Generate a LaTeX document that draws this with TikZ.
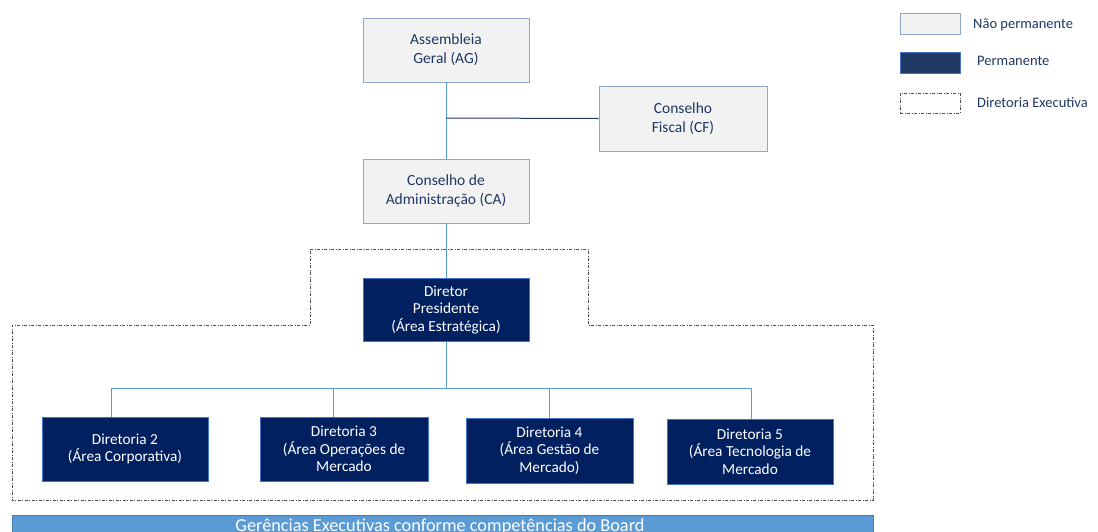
\documentclass[tikz,border=0pt]{standalone}
\usepackage{fontspec}
\setmainfont{Carlito}
\usetikzlibrary{calc}
\definecolor{navy}{HTML}{002060}
\definecolor{navylg}{HTML}{1F3864}
\definecolor{txtblue}{HTML}{1F3864}
\definecolor{lightfill}{HTML}{F2F2F2}
\definecolor{lightborder}{HTML}{8EA9C8}
\definecolor{conn}{HTML}{5B9BD5}
\definecolor{darkborder}{HTML}{4472C4}
\definecolor{barfill}{HTML}{5B9BD5}
\begin{document}
\begin{tikzpicture}[x=1pt,y=-1pt,
  lightbox/.style={draw=lightborder,fill=lightfill,line width=0.9pt,minimum width=166pt,minimum height=64pt,align=center,text=txtblue,font=\fontsize{15.5}{19}\selectfont,inner sep=0pt},
  darkbox/.style={draw=darkborder,fill=navy,line width=0.9pt,minimum width=166pt,minimum height=64pt,align=center,text=white,font=\fontsize{15.3}{17.5}\selectfont,inner sep=0pt},
  conline/.style={draw=conn,line width=0.9pt},
  cfline/.style={draw=navylg,line width=1pt},
  dashline/.style={draw=black!70,line width=0.8pt,dash pattern=on 3pt off 1.5pt on 1pt off 1.5pt},
  legtext/.style={anchor=west,text=txtblue,font=\fontsize{14.5}{16}\selectfont,inner sep=0pt}
]
\useasboundingbox (0,0) rectangle (1098,531);
% dashed Diretoria Executiva outline
\draw[dashline] (310,249) -- (588,249) -- (588,325) -- (873,325) -- (873,500) -- (12,500) -- (12,325) -- (310,325) -- cycle;
% boxes
\node[lightbox] (AG) at (446,50) {Assembleia\\Geral (AG)};
\node[lightbox,minimum width=168pt,minimum height=65pt] (CF) at (683,118.5) {Conselho\\Fiscal (CF)};
\node[lightbox] (CA) at (446,191) {Conselho de\\Administração (CA)};
\node[darkbox,minimum height=63pt] (DP) at (446,310) {Diretor\\Presidente\\(Área Estratégica)};
\node[darkbox] (D2) at (125,449) {Diretoria 2\\(Área Corporativa)};
\node[darkbox,minimum width=168pt] (D3) at (344,449) {Diretoria 3\\(Área Operações de\\Mercado};
\node[darkbox,minimum width=167pt,minimum height=65pt] (D4) at (549.5,450.5) {Diretoria 4\\(Área Gestão de\\Mercado)};
\node[darkbox,minimum height=65pt] (D5) at (750,451.5) {Diretoria 5\\(Área Tecnologia de\\Mercado};
% connectors
\draw[conline] (AG.south) -- (CA.north);
\coordinate (jcf) at (446,118);
\draw[cfline] (jcf) -- (CF.west);
\draw[conline] (CA.south) -- (DP.north);
\coordinate (bus) at (446,388);
\draw[conline] (DP.south) -- (bus);
\draw[conline] (bus) -| ([xshift=-14pt]D2.north);
\draw[conline] (bus) -| ([xshift=-11pt]D3.north);
\draw[conline] (bus) -| (D4.north);
\draw[conline] (bus) -| ([xshift=1pt]D5.north);
% bottom bar
\node[draw=conn!80!black,fill=barfill,line width=0.8pt,minimum width=861pt,minimum height=32pt,inner sep=0pt] (bar) at (442.5,531) {};
\node[anchor=base,text=white,font=\fontsize{18.3}{21}\selectfont,inner sep=0pt] (bartext) at (440,531) {Gerências Executivas conforme competências do Board};
% legend
\node[draw=lightborder,fill=lightfill,line width=0.9pt,minimum width=60pt,minimum height=21pt,inner sep=0pt] (L1) at (930,23.5) {};
\node[draw=darkborder,fill=navylg,line width=0.9pt,minimum width=60pt,minimum height=21pt,inner sep=0pt] (L2) at (930,62.5) {};
\node[dashline,minimum width=60pt,minimum height=20pt,inner sep=0pt] (L3) at (930,103) {};
\node[legtext] (T1) at (973,25) {Não permanente};
\node[legtext] (T2) at (977,61) {Permanente};
\node[legtext] (T3) at (977,103) {Diretoria Executiva};
\end{tikzpicture}
\end{document}
